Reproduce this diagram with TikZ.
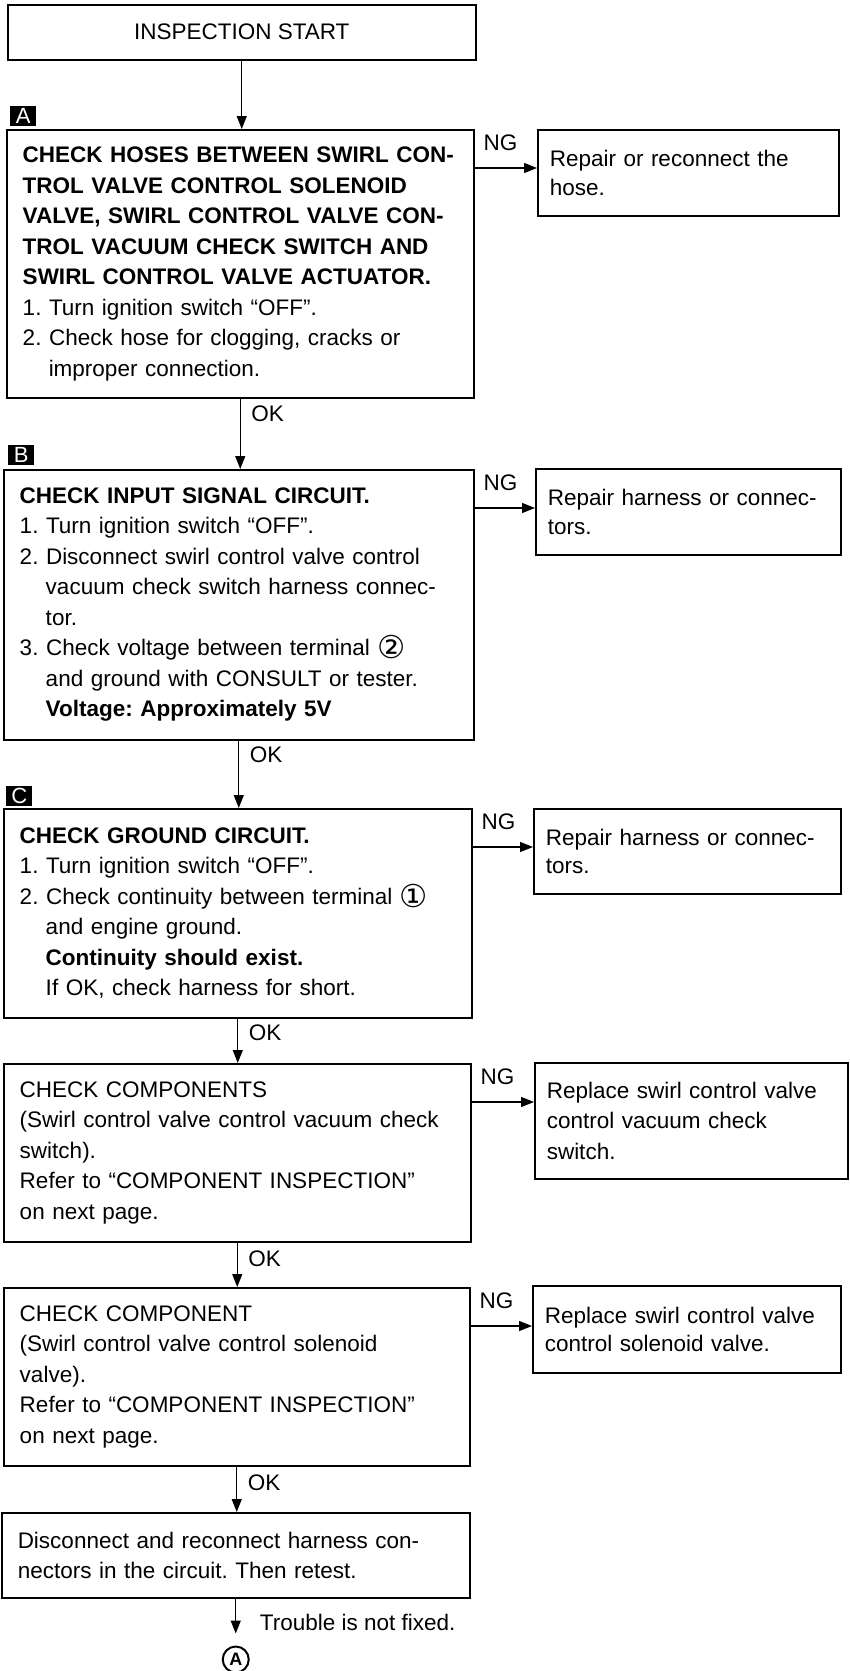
\documentclass[tikz,border=0pt]{standalone}
\usepackage{fontspec}
\setmainfont{Liberation Sans}
\newfontfamily\symfont[Scale=1.4]{DejaVu Sans}
\usetikzlibrary{arrows.meta, positioning}
\newcommand{\subline}{\hspace*{26pt}}
\newcommand{\termno}[1]{\raisebox{-3pt}{\symfont #1}}
\frenchspacing

\begin{document}
\begin{tikzpicture}[
    x=1pt, y=1pt,
    font=\fontsize{22.5}{30.5}\selectfont,
    startbox/.style={rectangle, draw, line width=1.5pt, anchor=north west, minimum width=468pt, minimum height=55pt, inner sep=0pt},
    check/.style={rectangle, draw, line width=1.5pt, anchor=north west, align=left, inner xsep=16pt, inner ysep=0pt},
    fix/.style={rectangle, draw, line width=1.5pt, anchor=north west, align=left, inner xsep=12pt, inner ysep=0pt, font=\fontsize{22.5}{28.5}\selectfont},
    tag/.style={rectangle, fill=black, text=white, minimum width=26pt, minimum height=20pt, inner sep=0pt, font=\fontsize{22}{22}\selectfont},
    lbl/.style={inner sep=0pt},
    arrow/.style={line width=1.3pt, -{Triangle[length=13pt, width=10pt]}}
]
\useasboundingbox (0,0) rectangle (849,-1671);

% 开始
\node[startbox] (start) at (7,-4) {INSPECTION START};

% 左列 - 检查步骤
\node[check, text width=435pt, minimum height=268pt] (boxA) at (6,-129) {%
\textbf{CHECK HOSES BETWEEN SWIRL CON-}\\
\textbf{TROL VALVE CONTROL SOLENOID}\\
\textbf{VALVE, SWIRL CONTROL VALVE CON-}\\
\textbf{TROL VACUUM CHECK SWITCH AND}\\
\textbf{SWIRL CONTROL VALVE ACTUATOR.}\\
1. Turn ignition switch “OFF”.\\
2. Check hose for clogging, cracks or\\
\subline improper connection.};

\node[check, text width=438pt, minimum height=270pt] (boxB) at (3,-469) {%
\textbf{CHECK INPUT SIGNAL CIRCUIT.}\\
1. Turn ignition switch “OFF”.\\
2. Disconnect swirl control valve control\\
\subline vacuum check switch harness connec-\\
\subline tor.\\
3. Check voltage between terminal \termno{②}\\
\subline and ground with CONSULT or tester.\\
\subline\textbf{Voltage: Approximately 5V}};

\node[check, text width=436pt, minimum height=209pt] (boxC) at (3,-808) {%
\textbf{CHECK GROUND CIRCUIT.}\\
1. Turn ignition switch “OFF”.\\
2. Check continuity between terminal \termno{①}\\
\subline and engine ground.\\
\subline\textbf{Continuity should exist.}\\
\subline If OK, check harness for short.};

\node[check, text width=435pt, minimum height=178pt] (boxD) at (3,-1063) {%
CHECK COMPONENTS\\
(Swirl control valve control vacuum check\\
switch).\\
Refer to “COMPONENT INSPECTION”\\
on next page.};

\node[check, text width=434pt, minimum height=178pt] (boxE) at (3,-1287) {%
CHECK COMPONENT\\
(Swirl control valve control solenoid\\
valve).\\
Refer to “COMPONENT INSPECTION”\\
on next page.};

\node[check, text width=436pt, minimum height=85pt] (boxF) at (1,-1512) {%
Disconnect and reconnect harness con-\\
nectors in the circuit. Then retest.};

% 字母标记
\node[tag, above right=3pt and 4pt of boxA.north west] (tagA) {A};
\node[tag, above right=4pt and 5pt of boxB.north west] (tagB) {B};
\node[tag, above right=2pt and 3pt of boxC.north west] (tagC) {C};

% 右列 - NG处理
\node[fix, text width=277pt, minimum height=86pt] (repA) at (537,-129) {Repair or reconnect the\\hose.};
\node[fix, text width=281pt, minimum height=86pt] (repB) at (535,-468) {Repair harness or connec-\\tors.};
\node[fix, text width=283pt, minimum height=85pt] (repC) at (533,-808) {Repair harness or connec-\\tors.};
\node[fix, text width=289pt, minimum height=116pt, font=\fontsize{22.5}{30.5}\selectfont] (repD) at (534,-1062) {Replace swirl control valve\\control vacuum check\\switch.};
\node[fix, text width=284pt, minimum height=87pt] (repE) at (532,-1285) {Replace swirl control valve\\control solenoid valve.};

% 箭头 - OK流程
\draw[arrow] (start.south) -- (start.south |- boxA.north);
\draw[arrow] (boxA.south) -- (boxA.south |- boxB.north);
\draw[arrow] (boxB.south) -- (boxB.south |- boxC.north);
\draw[arrow] (boxC.south) -- (boxC.south |- boxD.north);
\draw[arrow] (boxD.south) -- (boxD.south |- boxE.north);
\draw[arrow] (boxE.south) -- (boxE.south |- boxF.north);

\node[lbl, below right=7pt and 11pt of boxA.south] (okA) {OK};
\node[lbl, below right=6pt and 11pt of boxB.south] (okB) {OK};
\node[lbl, below right=6pt and 11pt of boxC.south] (okC) {OK};
\node[lbl, below right=8pt and 11pt of boxD.south] (okD) {OK};
\node[lbl, below right=8pt and 11pt of boxE.south] (okE) {OK};

% 箭头 - NG分支
\foreach \b/\r in {boxA/repA, boxB/repB, boxC/repC, boxD/repD, boxE/repE} {
    \coordinate (ng\b) at ([yshift=-39pt]\b.north east);
    \draw[arrow] (ng\b) -- (ng\b -| \r.west);
    \node[lbl, above right=17pt and 9pt of ng\b] {NG};
}

% 结束
\node[circle, draw, line width=2pt, minimum size=26pt, inner sep=0pt, font=\bfseries\fontsize{18}{18}\selectfont, below=47pt of boxF.south] (circA) {A};
\draw[arrow, shorten >=12pt] (boxF.south) -- (circA.north);
\node[lbl, below right=15pt and 24pt of boxF.south] (trouble) {Trouble is not fixed.};

\end{tikzpicture}
\end{document}
